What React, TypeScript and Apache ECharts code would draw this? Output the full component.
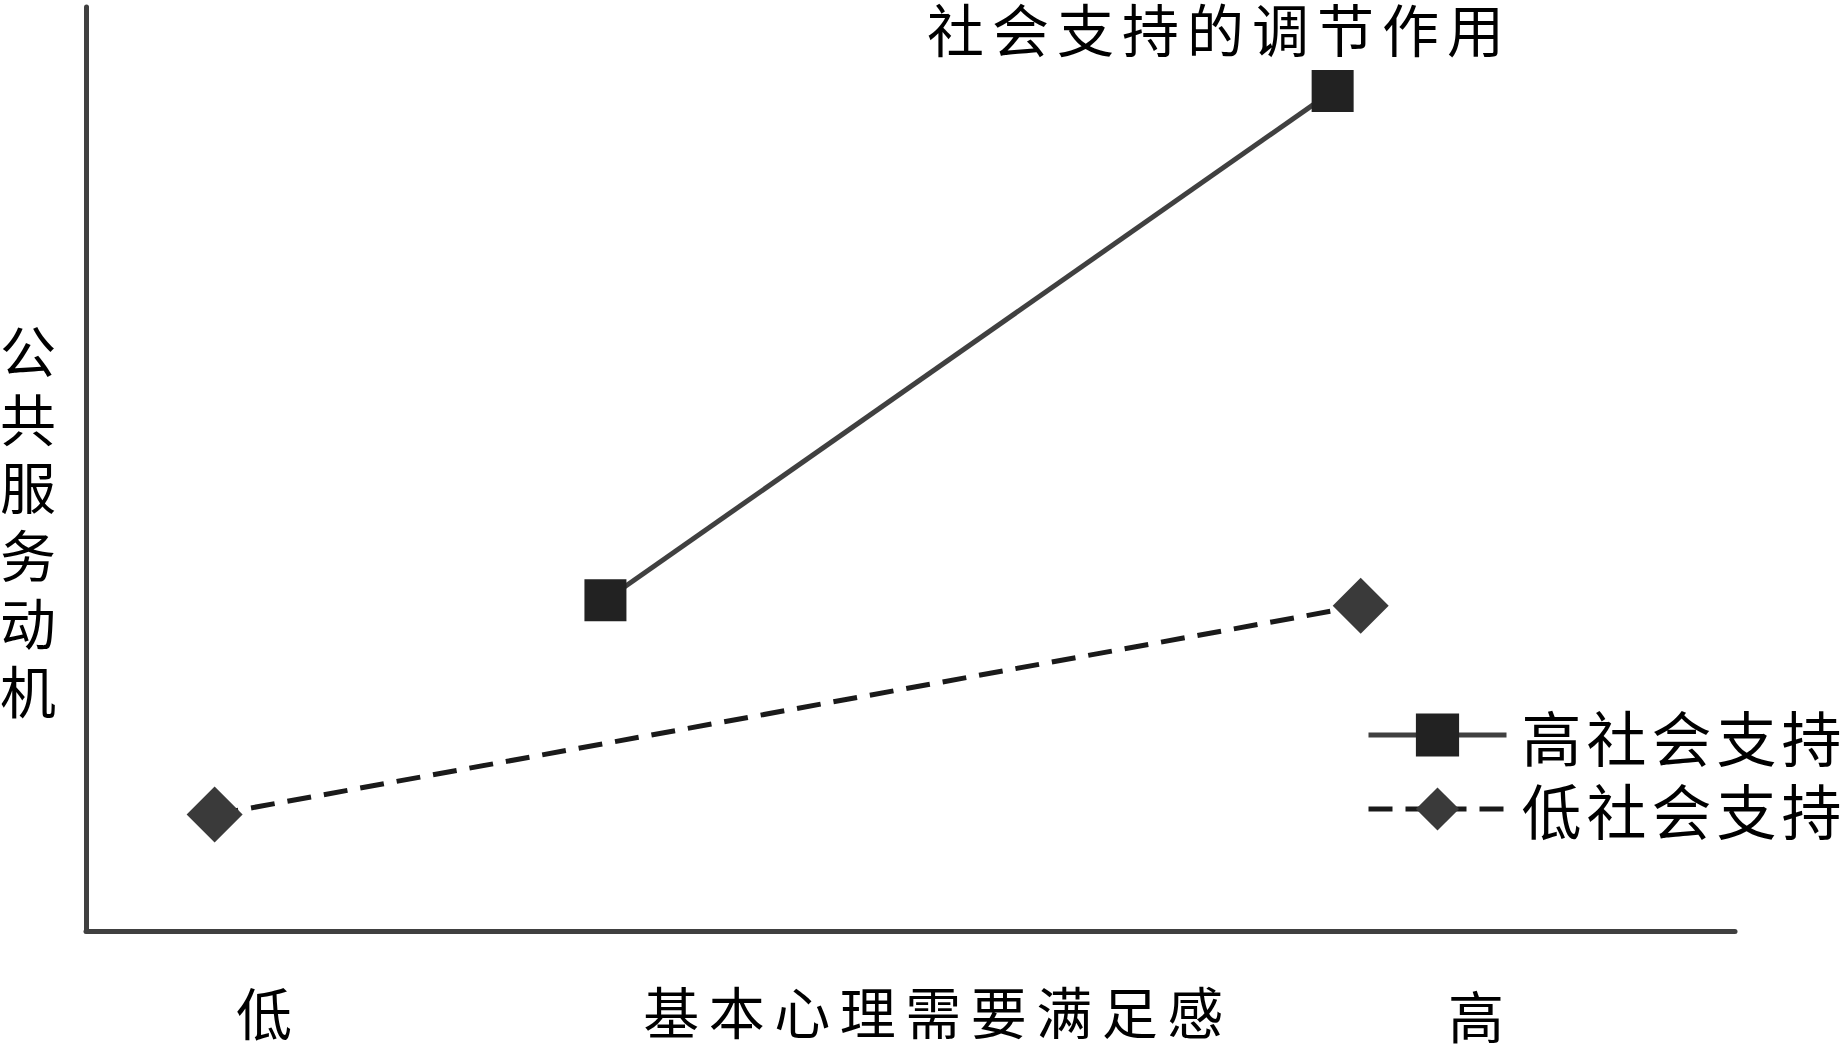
import React, { useEffect, useRef } from "react";
import * as echarts from "echarts";

// ---- data ----
const chartTitle = "社会支持的调节作用";
const xAxisName = "基本心理需要满足感";
const yAxisName = "公共服务动机";
const xEndLabels = ["低", "高"];
const seriesNames = ["高社会支持", "低社会支持"];
// x positions on a 0-100 scale, y values on a 0-100 scale
const highSupportX = [31.5, 75.6];
const highSupportY = [35.8, 90.9];
const lowSupportX = [7.8, 77.3];
const lowSupportY = [12.6, 35.2];

const FONT = "'Noto Sans CJK SC', 'Noto Sans CJK JP', sans-serif";

// extra spacing between characters (px), as in the reference typesetting
const letterSpacing: Record<string, number> = {
  [chartTitle]: 8,
  [xAxisName]: 9.5,
  [seriesNames[0]]: 5,
  [seriesNames[1]]: 5,
};

export default function App() {
  const ref = useRef<HTMLDivElement>(null);

  useEffect(() => {
    if (!ref.current) return;
    const chart = echarts.init(ref.current, undefined, { renderer: "svg" });
    const highData = highSupportX.map((x, i) => [x, highSupportY[i]]);
    const lowData = lowSupportX.map((x, i) => [x, lowSupportY[i]]);

    chart.setOption({
      animation: false,
      backgroundColor: "#ffffff",
      title: {
        text: chartTitle,
        left: 922,
        top: -7,
        textStyle: { fontFamily: FONT, fontSize: 57, fontWeight: "normal", color: "#000" },
      },
      grid: { left: 86, right: 106, top: 7, bottom: 116 },
      xAxis: {
        type: "value",
        min: 0,
        max: 100,
        axisLine: { show: true, lineStyle: { color: "#404040", width: 5 } },
        axisTick: { show: false },
        axisLabel: { show: false },
        splitLine: { show: false },
      },
      yAxis: {
        type: "value",
        min: 0,
        max: 100,
        axisLine: { show: true, lineStyle: { color: "#404040", width: 5 } },
        axisTick: { show: false },
        axisLabel: { show: false },
        splitLine: { show: false },
      },
      legend: {
        orient: "vertical",
        left: 1361,
        top: 700,
        itemWidth: 138,
        itemHeight: 54,
        itemGap: 14,
        lineStyle: { width: 5 },
        textStyle: {
          fontFamily: FONT,
          fontSize: 60,
          color: "#000",
          padding: [0, 0, 0, 10],
        },
        data: seriesNames,
      },
      series: [
        {
          name: seriesNames[0],
          type: "line",
          data: highData,
          symbol: "rect",
          symbolSize: 42,
          itemStyle: { color: "#222222" },
          lineStyle: { color: "#404040", width: 5, type: "solid" },
          z: 3,
        },
        {
          name: seriesNames[1],
          type: "line",
          data: lowData,
          symbol: "diamond",
          symbolSize: 56,
          itemStyle: { color: "#3a3a3a" },
          lineStyle: { color: "#1a1a1a", width: 5, type: [24, 13] },
          z: 3,
        },
      ],
      graphic: [
        {
          type: "text",
          x: 264,
          y: 1010,
          style: {
            text: xEndLabels[0],
            fontFamily: FONT,
            fontSize: 56,
            fill: "#000",
            textAlign: "center",
            textVerticalAlign: "middle",
          },
        },
        {
          type: "text",
          x: 1476,
          y: 1013,
          style: {
            text: xEndLabels[1],
            fontFamily: FONT,
            fontSize: 56,
            fill: "#000",
            textAlign: "center",
            textVerticalAlign: "middle",
          },
        },
        {
          type: "text",
          x: 938,
          y: 1009,
          style: {
            text: xAxisName,
            fontFamily: FONT,
            fontSize: 56,
            fill: "#000",
            textAlign: "center",
            textVerticalAlign: "middle",
          },
        },
        {
          type: "text",
          x: 28,
          y: 518,
          style: {
            text: yAxisName.split("").join("\n"),
            fontFamily: FONT,
            fontSize: 56,
            lineHeight: 68,
            fill: "#000",
            textAlign: "center",
            textVerticalAlign: "middle",
          },
        },
      ],
    });

    const applySpacing = () => {
      if (!ref.current) return;
      ref.current.querySelectorAll("text").forEach((t) => {
        const s = (t.textContent || "").trim();
        if (letterSpacing[s] != null) {
          t.setAttribute("letter-spacing", String(letterSpacing[s]));
        }
      });
    };
    applySpacing();
    chart.on("finished", applySpacing);
    const timer = window.setTimeout(applySpacing, 50);

    return () => {
      window.clearTimeout(timer);
      chart.dispose();
    };
  }, []);

  return (
    <div
      ref={ref}
      style={{ position: "fixed", left: 0, top: 0, width: "1841px", height: "1047px" }}
    />
  );
}
